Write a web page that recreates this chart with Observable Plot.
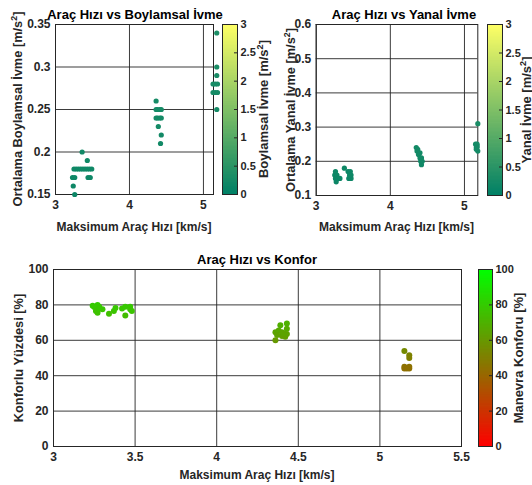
<!DOCTYPE html>
<html><head><meta charset="utf-8">
<script src="https://cdn.jsdelivr.net/npm/d3@7"></script>
<script src="https://cdn.jsdelivr.net/npm/@observablehq/plot@0.6"></script>
<style>
body{margin:0;background:#fff;}
#fig{position:relative;width:532px;height:485px;overflow:hidden;font-family:"Liberation Sans",Arial,sans-serif;font-weight:bold;color:#262626;background:#fff;}
#fig svg{overflow:visible}
.t{position:absolute;white-space:nowrap;line-height:1;transform:translate(-50%,-50%);font-size:12px;}
.ttl{font-size:13px;color:#000;}
.r{transform:translate(-50%,-50%) rotate(-90deg);font-size:12.8px;}
.cb{font-size:13px;}
sup{font-size:0.7em;vertical-align:0.5em;line-height:0;}
</style></head><body><div id="fig"></div>
<script>
// ---- Plot 1: Araç Hızı vs Boylamsal İvme ----
const boyX = [3.36,3.43,3.25,3.28,3.31,3.34,3.37,3.40,3.43,3.46,3.49,3.23,3.26,3.44,3.47,3.24,3.26,
              4.36,4.36,4.38,4.41,4.43,4.36,4.38,4.41,4.43,4.39,4.43,4.42,
              5.18,5.18,5.18,5.13,5.16,5.19,5.13,5.16,5.19,5.18];
const boyY = [0.20,0.19,0.18,0.18,0.18,0.18,0.18,0.18,0.18,0.18,0.18,0.17,0.17,0.17,0.17,0.16,0.15,
              0.26,0.25,0.25,0.25,0.25,0.24,0.24,0.24,0.24,0.23,0.22,0.21,
              0.34,0.30,0.29,0.28,0.28,0.28,0.27,0.27,0.27,0.25];
const boyXTicks = [3,4,5];
const boyYTicks = [0.15,0.2,0.25,0.3,0.35];

// ---- Plot 2: Araç Hızı vs Yanal İvme ----
const yanX = [3.25,3.26,3.26,3.27,3.28,3.29,3.32,3.38,3.43,3.44,3.46,3.47,3.47,3.45,
              4.35,4.36,4.37,4.38,4.40,4.40,4.41,4.42,4.43,4.42,
              5.18,5.15,5.16,5.17,5.18,5.16,5.17,5.17];
const yanY = [0.16,0.17,0.15,0.14,0.16,0.15,0.15,0.18,0.17,0.15,0.17,0.16,0.15,0.16,
              0.24,0.23,0.235,0.22,0.21,0.225,0.20,0.19,0.20,0.21,
              0.31,0.25,0.24,0.245,0.23,0.235,0.25,0.24];
const yanXTicks = [3,4,5];
const yanYTicks = [0.1,0.2,0.3,0.4,0.5,0.6];

// ---- Plot 3: Araç Hızı vs Konfor ----
const konX = [3.24,3.25,3.27,3.28,3.26,3.27,3.30,3.34,3.37,3.38,3.42,3.44,3.44,3.47,3.48,3.47,3.28,
              4.36,4.36,4.38,4.39,4.40,4.42,4.43,4.43,4.43,4.40,4.37,4.41,
              5.15,5.18,5.18,5.15,5.15,5.18,5.18,5.165];
const konY = [79.5,78.8,80,79,76.5,75.5,77.5,75,76.5,78.3,78,79,74,79,76.5,77.5,78,
              60,64.5,65.5,68.5,62.5,62,69.5,66.5,63.5,64.5,63,64,
              54,51.5,50,45,44,45,44,44];
const konXTicks = [3,3.5,4,4.5,5,5.5];
const konYTicks = [0,20,40,60,80,100];

// colour bars
const accTicks = [0,0.5,1,1.5,2,2.5,3];
const konCTicks = [0,20,40,60,80,100];
const summer = ["rgb(0,128,102)","rgb(255,255,102)"];
const redgreen = ["rgb(255,0,0)","rgb(0,255,0)"];

const fig = document.getElementById("fig");
const fmt = d => String(d);
const baseStyle = {background:"transparent",fontFamily:"'Liberation Sans',Arial,sans-serif",fontWeight:"bold",fontSize:"12px",color:"#262626",overflow:"visible"};
const cbStyle = {...baseStyle, fontSize:"11px"};

function place(el, left, top, w){
  const d = document.createElement("div");
  d.style.cssText = `position:absolute;left:${left}px;top:${top}px;width:${w}px;`;
  d.appendChild(el); fig.appendChild(d);
}
function text(html, x, y, cls){
  const d = document.createElement("div");
  d.className = "t " + (cls||"");
  d.style.left = x+"px"; d.style.top = y+"px";
  d.innerHTML = html; fig.appendChild(d);
}
function scatter(o){
  const idx = d3.range(o.xs.length);
  return Plot.plot({
    width:o.width, height:o.height, marginLeft:o.mL, marginRight:o.mR, marginTop:o.mT, marginBottom:o.mB,
    style:baseStyle,
    x:{domain:o.xDomain, ticks:o.xTicks, tickFormat:fmt, tickSize:0, tickPadding:6, label:null},
    y:{domain:o.yDomain, ticks:o.yTicks, tickFormat:fmt, tickSize:0, tickPadding:5, label:null},
    color:{type:"linear", domain:o.cDomain, range:o.cRange, interpolate:"rgb"},
    marks:[
      Plot.ruleX(o.xTicks,{stroke:"#262626",strokeOpacity:0.9}),
      Plot.ruleY(o.yTicks,{stroke:"#262626",strokeOpacity:0.9}),
      Plot.frame({stroke:"#262626"}),
      Plot.dot(idx,{x:i=>o.xs[i], y:i=>o.ys[i], fill:i=>o.ys[i], r:o.r, stroke:null})
    ]
  });
}
function colorbar(o){
  const n = 128, step = (o.domain[1]-o.domain[0])/n;
  const stops = d3.range(n).map(k => o.domain[0] + k*step);
  return Plot.plot({
    width:o.band+30, height:o.height, marginLeft:0, marginRight:30, marginTop:o.mT, marginBottom:o.mB,
    style:cbStyle,
    x:{domain:[0,1], axis:null},
    y:{domain:o.domain, ticks:o.ticks, tickFormat:fmt, tickSize:0, tickPadding:3, axis:"right", label:null},
    color:{type:"linear", domain:o.domain, range:o.range, interpolate:"rgb"},
    marks:[
      Plot.rect(stops,{x1:0, x2:1, y1:d=>d, y2:d=>Math.min(d+step*1.6,o.domain[1]), fill:d=>d+step/2}),
      Plot.tickY(o.ticks,{y:d=>d, insetLeft:o.band-3, stroke:"#262626"}),
      Plot.frame({stroke:"#262626"})
    ]
  });
}

// top-left
place(scatter({width:220,height:240,mL:55,mR:7,mT:24,mB:46,xDomain:[3,5.136],xTicks:boyXTicks,
  yDomain:[0.15,0.35],yTicks:boyYTicks,xs:boyX,ys:boyY,cDomain:[0,3],cRange:summer,r:2.6}),0,0,220);
place(colorbar({band:15,height:240,mT:24,mB:46,domain:[0,3],ticks:accTicks,range:summer}),222,0,45);

// top-right
place(scatter({width:220,height:240,mL:50.7,mR:7.7,mT:24,mB:45,xDomain:[3,5.18],xTicks:yanXTicks,
  yDomain:[0.1,0.6],yTicks:yanYTicks,xs:yanX,ys:yanY,cDomain:[0,3],cRange:summer,r:2.6}),265,0,220);
place(colorbar({band:15,height:240,mT:24,mB:45,domain:[0,3],ticks:accTicks,range:summer}),487.3,0,45);

// bottom
place(scatter({width:470,height:235,mL:53,mR:9,mT:19,mB:39,xDomain:[3,5.5],xTicks:konXTicks,
  yDomain:[0,100],yTicks:konYTicks,xs:konX,ys:konY,cDomain:[0,100],cRange:redgreen,r:3}),0,250,470);
place(colorbar({band:14,height:235,mT:19,mB:39,domain:[0,100],ticks:konCTicks,range:redgreen}),477.7,250,44);

// texts
text("Araç Hızı vs Boylamsal İvme",135,13.5,"ttl");
text("Araç Hızı vs Yanal İvme",404,13.5,"ttl");
text("Araç Hızı vs Konfor",257,259,"ttl");
text("Maksimum Araç Hızı [km/s]",134,226.5);
text("Maksimum Araç Hızı [km/s]",396.5,226.5);
text("Maksimum Araç Hızı [km/s]",257,475);
text("Ortalama Boylamsal İvme [m/s<sup>2</sup>]",18,109,"r");
text("Ortalama Yanal İvme [m/s<sup>2</sup>]",291,109.5,"r");
text("Konforlu Yüzdesi [%]",19,357.5,"r");
text("Boylamsal İvme [m/s<sup>2</sup>]",263,109,"r cb");
text("Yanal İvme [m/s<sup>2</sup>]",526,109.5,"r cb");
text("Manevra Konforu [%]",518,357.5,"r cb");
</script>
</body></html>
